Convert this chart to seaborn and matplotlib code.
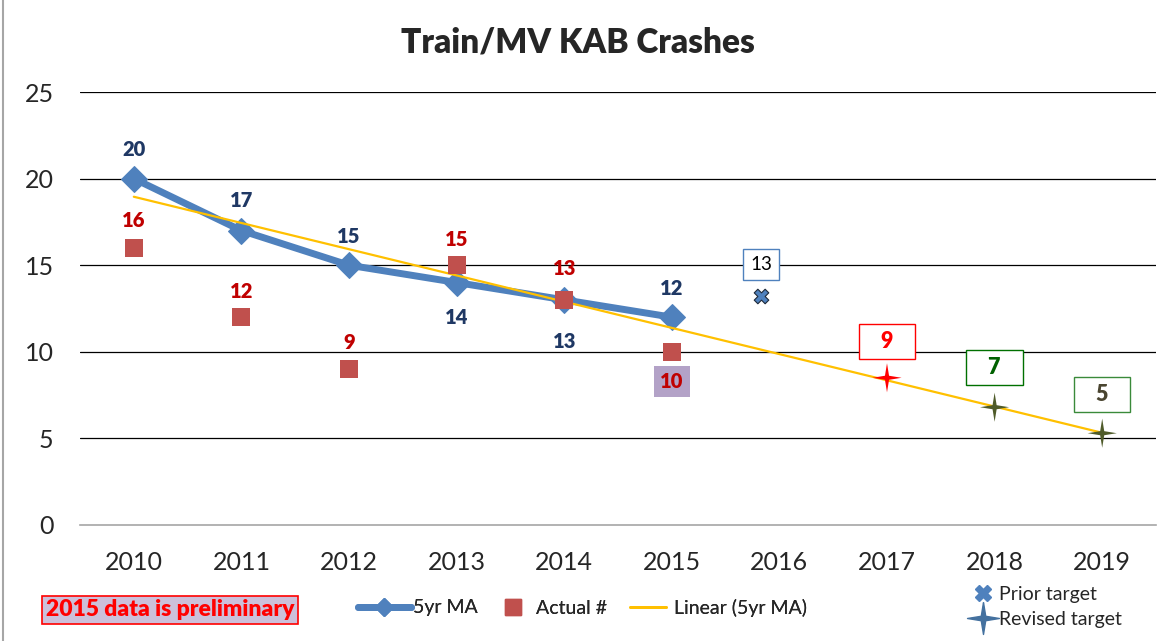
import numpy as np
import pandas as pd
import matplotlib
matplotlib.use("Agg")
import matplotlib.pyplot as plt
import matplotlib.transforms as mtransforms
from matplotlib.lines import Line2D
import seaborn as sns

# ---------------- data ----------------
years = ["2010", "2011", "2012", "2013", "2014", "2015", "2016", "2017", "2018", "2019"]
ma_years = ["2010", "2011", "2012", "2013", "2014", "2015"]
ma_values = [20, 17, 15, 14, 13, 12]
actual_years = ["2010", "2011", "2012", "2013", "2014", "2015"]
actual_values = [16, 12, 9, 15, 13, 10]
prior_year = ["2016"]
prior_value = [13.2]
prior_label = ["13"]
revised_years = ["2017", "2018", "2019"]
revised_values = [8.5, 6.8, 5.3]
revised_labels = ["9", "7", "5"]
y_ticks = [0, 5, 10, 15, 20, 25]

# ---------------- style ----------------
sns.set_theme(style="white")
plt.rcParams["font.family"] = ["Lato", "DejaVu Sans"]

C_MA = "#4F81BD"
C_ACT = "#C0504D"
C_TREND = "#FFC000"
C_MALAB = "#1F3864"
C_ACTLAB = "#C00000"

idx = {y: i for i, y in enumerate(years)}
df_ma = pd.DataFrame({"x": [idx[y] for y in ma_years], "v": ma_values})
df_act = pd.DataFrame({"x": [idx[y] for y in actual_years], "v": actual_values})

fig = plt.figure(figsize=(11.57, 6.41), dpi=100)
ax = fig.add_axes([80 / 1157, 1 - 525 / 641, 1076 / 1157, (525 - 92) / 641])

# gridlines
for t in y_ticks[1:]:
    ax.axhline(t, color="black", lw=0.9, zorder=0)

# linear trend of 5yr MA, extended to 2019
coef = np.polyfit(df_ma["x"], df_ma["v"], 1)
df_tr = pd.DataFrame({"x": np.arange(len(years))})
df_tr["v"] = np.polyval(coef, df_tr["x"])

sns.lineplot(data=df_ma, x="x", y="v", ax=ax, color=C_MA, lw=5, marker="D",
             markersize=13, markeredgecolor=C_MA, zorder=3, legend=False)
sns.lineplot(data=df_tr, x="x", y="v", ax=ax, color=C_TREND, lw=1.6, zorder=4, legend=False)
sns.scatterplot(data=df_act, x="x", y="v", ax=ax, color=C_ACT, marker="s", s=150,
                edgecolor=C_ACT, linewidth=0, zorder=5, legend=False)

# prior target (slightly left of category centre)
off = mtransforms.ScaledTranslation(-18 / 100, 0, fig.dpi_scale_trans)
ax.scatter([idx[y] for y in prior_year], prior_value, marker="X", s=110, color=C_MA,
           edgecolor="#1F2A3A", linewidth=0.8, zorder=6, transform=ax.transData + off)

# revised targets: 4-point star
star = [(0, 1), (0.14, 0.14), (1, 0), (0.14, -0.14), (0, -1), (-0.14, -0.14), (-1, 0), (-0.14, 0.14), (0, 1)]
rev_colors = ["#FF0000", "#4F5B2A", "#4F5B2A"]
ax.scatter([idx[y] for y in revised_years], revised_values, marker=star, s=440,
           c=rev_colors, linewidth=0, zorder=6)

# ---------------- labels ----------------
ma_off = [29, 30, 29, -35, -42, 29]
for y, v, o in zip(ma_years, ma_values, ma_off):
    ax.annotate(str(v), (idx[y], v), xytext=(0, o), textcoords="offset pixels",
                ha="center", va="center", fontsize=14.5, fontweight="heavy", color=C_MALAB, zorder=7)
act_off = [27, 26, 27, 26, 31, -30]
for y, v, o in zip(actual_years, actual_values, act_off):
    kw = {}
    if y == "2015":
        kw["bbox"] = dict(boxstyle="square,pad=0.3", fc="#B3A2C7", ec="none")
    ax.annotate(str(v), (idx[y], v), xytext=(0, o), textcoords="offset pixels",
                ha="center", va="center", fontsize=14.5, fontweight="heavy", color=C_ACTLAB,
                zorder=7, **kw)

ax.annotate(prior_label[0], (idx[prior_year[0]], prior_value[0]), xytext=(-18, 32),
            textcoords="offset pixels", ha="center", va="center", fontsize=13.5, color="black",
            bbox=dict(boxstyle="square,pad=0.38", fc="white", ec="#4F81BD", lw=1), zorder=7)
rev_off = [36, 40, 39]
rev_txt = ["#FF0000", "#006100", "#4A4530"]
rev_edge = ["#FF0000", "#007000", "#3A8A3A"]
for y, v, lab, o, tc, ec in zip(revised_years, revised_values, revised_labels, rev_off, rev_txt, rev_edge):
    ax.annotate("   " + lab + "   ", (idx[y], v), xytext=(0, o), textcoords="offset pixels",
                ha="center", va="center", fontsize=15.5, fontweight="heavy", color=tc,
                bbox=dict(boxstyle="square,pad=0.32", fc="white", ec=ec, lw=1), zorder=7)

# ---------------- axes ----------------
ax.set_xlim(-0.5, 9.5)
ax.set_ylim(0, 25)
ax.set_xticks(range(len(years)))
ax.set_xticklabels(years, fontsize=18)
ax.set_xticks(np.arange(-0.5, 9.6, 1), minor=True)
ax.tick_params(axis="x", which="major", length=0, pad=19)
ax.tick_params(axis="x", which="minor", length=16, direction="inout", color="#A6A6A6", width=1)
ax.set_yticks(y_ticks)
ax.set_yticklabels([str(t) for t in y_ticks], fontsize=18)
ax.tick_params(axis="y", length=0, pad=19)
ax.set_xlabel("")
ax.set_ylabel("")
for s in ["top", "right", "left"]:
    ax.spines[s].set_visible(False)
ax.spines["bottom"].set_color("#A6A6A6")
ax.spines["bottom"].set_linewidth(1.2)

fig.text(578 / 1157, 1 - 42 / 641, "Train/MV KAB Crashes", ha="center", va="center",
         fontsize=24, fontweight="heavy")

# preliminary note
fig.text(170 / 1157, 1 - 610 / 641, "2015 data is preliminary", ha="center", va="center",
         fontsize=16.5, fontweight="heavy", color="#FF0000",
         bbox=dict(boxstyle="square,pad=0.15", fc="#CCC0DA", ec="#FF0000", lw=1.2))

# legends (one entry each so they can be spaced like the reference)
FS = 14
leg_y = 1 - 608 / 641
entries = [
    (Line2D([], [], color=C_MA, lw=5, marker="D", markersize=9), "5yr MA", 358, 2.7, 0.12),
    (Line2D([], [], color=C_ACT, lw=0, marker="s", markersize=11), "Actual #", 498, 1.5, 0.45),
    (Line2D([], [], color=C_TREND, lw=2), "Linear (5yr MA)", 630, 1.85, 0.4),
]
for h, lab, x0, hl, tp in entries:
    lg = fig.legend([h], [lab], frameon=False, loc="center left",
                    bbox_to_anchor=(x0 / 1157, leg_y), fontsize=FS, borderpad=0,
                    borderaxespad=0, handlelength=hl, handletextpad=tp)
    fig.add_artist(lg)

h2 = [Line2D([], [], color=C_MA, lw=0, marker="X", markersize=12),
      Line2D([], [], color="#44719F", lw=0, marker=star, markersize=23)]
fig.legend(h2, ["Prior target", "Revised target"], ncol=1, frameon=False, loc="center left",
           bbox_to_anchor=(973 / 1157, 1 - 607 / 641), fontsize=FS, handlelength=1.0,
           handletextpad=0.35, labelspacing=0.4, borderpad=0, borderaxespad=0)

# light frame on the left
fig.add_artist(Line2D([2.5 / 1157, 2.5 / 1157], [0, 1], color="#A6A6A6", lw=1.5,
                      transform=fig.transFigure))

fig.savefig("out.png", dpi=100)
